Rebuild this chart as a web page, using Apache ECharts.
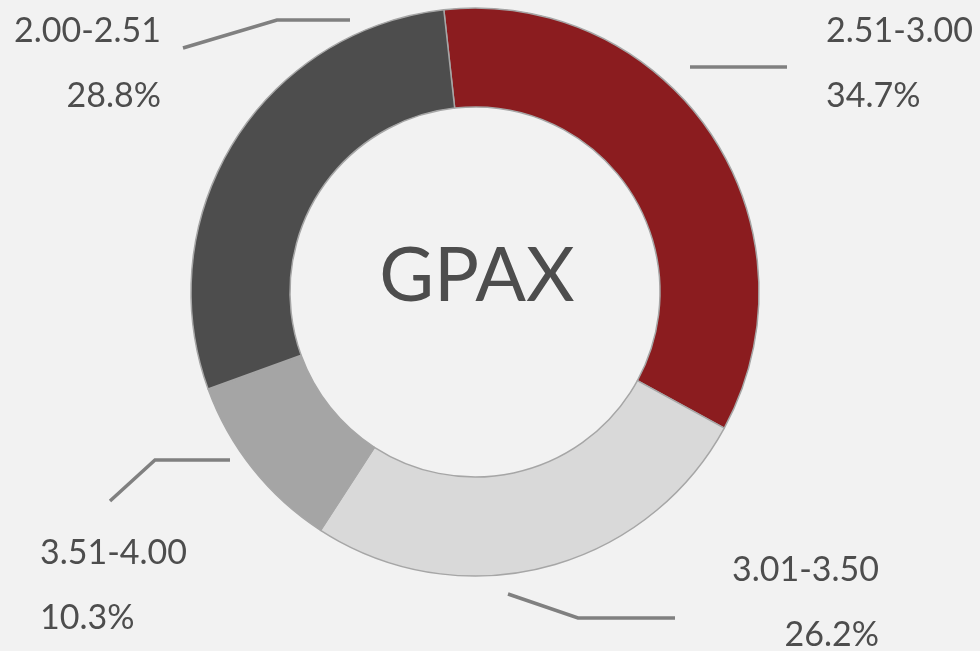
<!DOCTYPE html>
<html>
<head>
<meta charset="utf-8">
<script src="https://cdn.jsdelivr.net/npm/echarts@6/dist/echarts.min.js"></script>
<style>
  html, body { margin: 0; padding: 0; background: #f2f2f2; }
  #main { width: 980px; height: 651px; }
</style>
</head>
<body>
<div id="main"></div>
<script>
// data
var categories = ['2.51-3.00', '3.01-3.50', '3.51-4.00', '2.00-2.51'];
var shares = [34.7, 26.2, 10.3, 28.8];
var sliceColors = ['#8b1c1f', '#d9d9d9', '#a5a5a5', '#4d4d4d'];

// where each label sits and how its leader line runs (Excel style)
var labelSpots = [
  { x: 826, y: 64, align: 'left',  line: [[787, 67], [738, 67], [690, 67]] },
  { x: 879, y: 603, align: 'right', line: [[508, 594], [578, 618], [675, 618]] },
  { x: 40,  y: 586, align: 'left',  line: [[230, 460], [155, 460], [110, 501]] },
  { x: 161, y: 64, align: 'right', line: [[350, 20], [277, 20], [183, 48]] }
];

var chart = echarts.init(document.getElementById('main'));

var option = {
  backgroundColor: '#f2f2f2',
  animation: false,
  graphic: [{
    type: 'text',
    x: 477,
    y: 277,
    style: {
      text: 'GPAX',
      fill: '#4d4d4d',
      font: '75px Lato',
      textAlign: 'center',
      textVerticalAlign: 'middle'
    }
  }],
  series: [{
    type: 'pie',
    center: [475, 292],
    radius: [185, 284],
    startAngle: 96.3,
    clockwise: true,
    itemStyle: {
      borderColor: '#a6a6a6',
      borderWidth: 1.5
    },
    label: {
      show: true,
      position: 'outside',
      formatter: '{b}\n{c}%',
      fontFamily: 'Lato',
      fontSize: 34,
      lineHeight: 65,
      color: '#4d4d4d'
    },
    labelLine: {
      show: true,
      lineStyle: { color: '#808080', width: 3.5 }
    },
    labelLayout: function (params) {
      var s = labelSpots[params.dataIndex];
      return {
        x: s.x,
        y: s.y,
        align: s.align,
        verticalAlign: 'middle',
        labelLinePoints: s.line
      };
    },
    data: categories.map(function (c, i) {
      return { name: c, value: shares[i], itemStyle: { color: sliceColors[i] } };
    })
  }]
};

chart.setOption(option);
</script>
</body>
</html>
